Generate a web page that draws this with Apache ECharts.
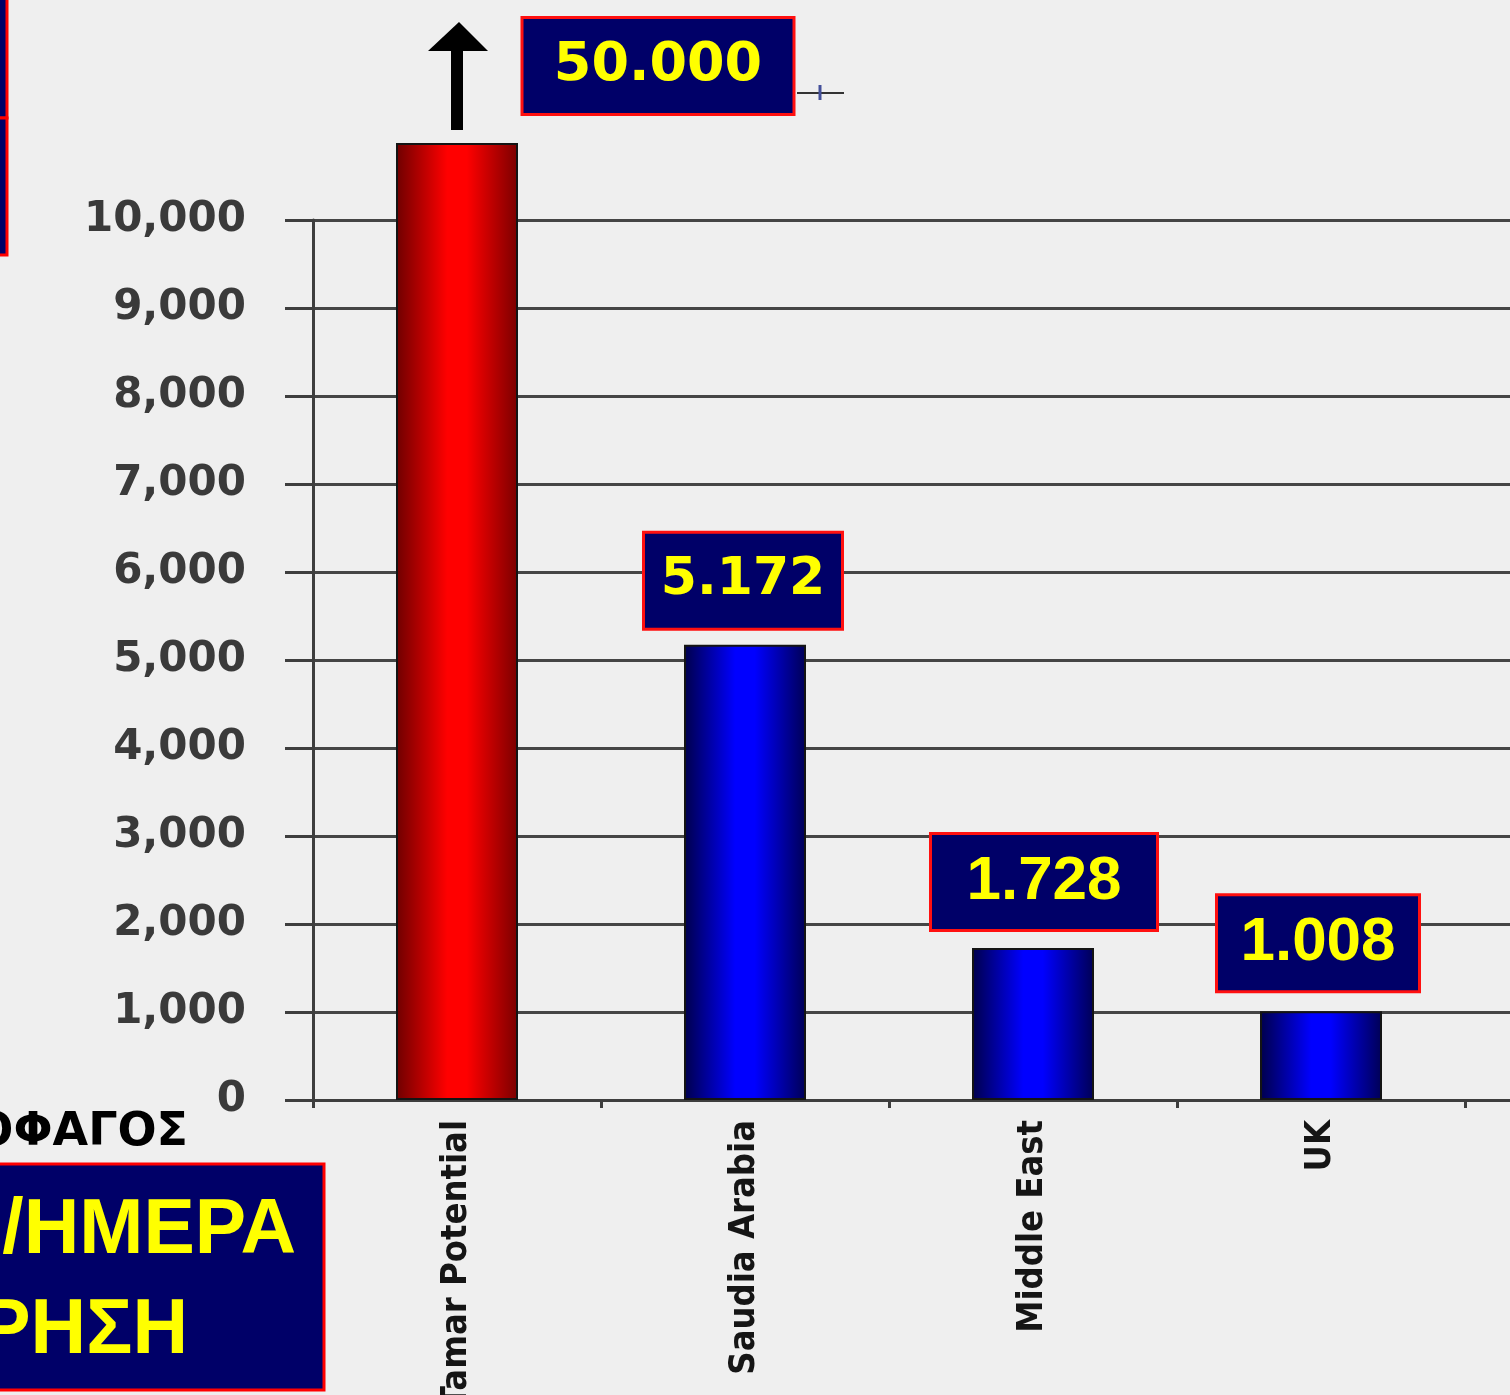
<!DOCTYPE html>
<html>
<head>
<meta charset="utf-8">
<script src="https://cdn.jsdelivr.net/npm/echarts@6/dist/echarts.min.js"></script>
<style>
html,body{margin:0;padding:0;background:#efefef;}
#c{width:1510px;height:1395px;}
</style>
</head>
<body>
<div id="c"></div>
<script>
// ---- data ----
const categories = ['Tamar Potential', 'Saudia Arabia', 'Middle East', 'UK', ''];
const values = [10875, 5172, 1728, 1008, null];           // drawn bar heights (Tamar bar is broken above the axis)
const valueLabels = ['50.000', '5.172', '1.728', '1.008', ''];
const yMin = 0, yMax = 10000, yStep = 1000;

// ---- styles ----
const NAVY = '#000068';
const heavy = '"DejaVu Sans", sans-serif';
const plain = '"Liberation Sans", Arial, sans-serif';
function grad(edgeL, mid, edgeR) {
  return new echarts.graphic.LinearGradient(0, 0, 1, 0, [
    {offset: 0, color: edgeL}, {offset: 0.42, color: mid}, {offset: 0.58, color: mid}, {offset: 1, color: edgeR}
  ]);
}
const barFills = [
  grad('#6e0000', '#ff0000', '#7a0000'),
  grad('#00004a', '#0000ff', '#000055'),
  grad('#00004a', '#0000ff', '#000055'),
  grad('#00004a', '#0000ff', '#000055'),
  grad('#00004a', '#0000ff', '#000055')
];
const labelLayout = [
  {w: 273, h: 98, off: [201, 0], dist: 30, font: heavy, size: 54},
  {w: 200, h: 98, off: [-2, 0], dist: 17, font: heavy, size: 52},
  {w: 228, h: 98, off: [11, 0], dist: 19, font: plain, size: 62},
  {w: 204, h: 98, off: [-3, 0], dist: 21, font: plain, size: 62},
  {w: 0, h: 0, off: [0, 0], dist: 0, font: plain, size: 10}
];

const chart = echarts.init(document.getElementById('c'), null, {renderer: 'canvas'});

const seriesData = values.map((v, i) => {
  const L = labelLayout[i];
  return {
    value: v,
    itemStyle: {color: barFills[i], borderColor: '#141414', borderWidth: 2},
    label: {
      show: v !== null,
      position: 'top',
      distance: L.dist,
      offset: L.off,
      formatter: () => valueLabels[i],
      width: L.w - 4, height: L.h - 4, lineHeight: L.h - 4,
      align: 'center',
      backgroundColor: NAVY, borderColor: '#ff1010', borderWidth: 3,
      padding: 0,
      color: '#ffff00', fontFamily: L.font, fontWeight: 'bold', fontSize: L.size
    }
  };
});

const axisCol = '#3e3e3e';
chart.setOption({
  backgroundColor: '#efefef',
  animation: false,
  grid: {left: 313, top: 220, width: 1440, height: 880, containLabel: false, outerBoundsMode: 'none'},
  xAxis: {
    type: 'category', data: categories,
    axisLine: {show: true, lineStyle: {color: axisCol, width: 3}},
    axisTick: {show: true, length: 8, lineStyle: {color: axisCol, width: 3}},
    axisLabel: {
      interval: 0, rotate: 90, margin: 20,
      fontFamily: '"Liberation Sans Narrow", "DejaVu Sans Condensed", "Liberation Sans", sans-serif',
      fontWeight: 'bold', fontSize: 36, color: '#151515'
    },
    splitLine: {show: false}
  },
  yAxis: {
    type: 'value', min: yMin, max: yMax, interval: yStep,
    axisLine: {show: true, lineStyle: {color: axisCol, width: 3}},
    axisTick: {show: true, length: 28, lineStyle: {color: axisCol, width: 3}},
    splitLine: {show: true, lineStyle: {color: '#454545', width: 3}},
    axisLabel: {
      margin: 67, formatter: v => v.toLocaleString('en-US'),
      fontFamily: heavy, fontWeight: 'bold', fontSize: 42, color: '#3a3a3a'
    }
  },
  series: [{
    type: 'bar', barWidth: 122, clip: false, z: 3,
    data: seriesData
  }]
});

// decorations positioned from the chart's own scale
const top0 = chart.convertToPixel({seriesIndex: 0}, [0, values[0]]);
const ax = top0[0], ay = top0[1];
chart.setOption({
  graphic: [
    // arrow above the broken bar
    {type: 'rect', shape: {x: ax - 6, y: ay - 95, width: 12, height: 82}, style: {fill: '#000'}, z: 10},
    {type: 'polygon', shape: {points: [[ax - 29, ay - 92], [ax + 31, ay - 92], [ax + 2, ay - 121]]}, style: {fill: '#000'}, z: 10},
    // small cross beside the 50.000 box
    {type: 'line', shape: {x1: ax + 340, y1: ay - 50, x2: ax + 387, y2: ay - 50}, style: {stroke: '#333', lineWidth: 2}, z: 10},
    {type: 'line', shape: {x1: ax + 363, y1: ay - 58, x2: ax + 363, y2: ay - 43}, style: {stroke: '#44509a', lineWidth: 3}, z: 10},
    // cut-off boxes at top-left
    {type: 'rect', shape: {x: -300, y: -10, width: 307, height: 128}, style: {fill: NAVY, stroke: '#ff0000', lineWidth: 3}, z: 10},
    {type: 'rect', shape: {x: -300, y: 118, width: 307, height: 137}, style: {fill: NAVY, stroke: '#ff0000', lineWidth: 3}, z: 10},
    // bottom-left text and box
    {type: 'text', style: {text: 'ΟΦΑΓΟΣ', x: 188, y: 1133, align: 'right', verticalAlign: 'middle', font: 'bold 46px "DejaVu Sans"', fill: '#000'}, z: 10},
    {type: 'rect', shape: {x: -20, y: 1164, width: 344, height: 226}, style: {fill: NAVY, stroke: '#ff0000', lineWidth: 3}, z: 10},
    {type: 'text', style: {text: '/ΗΜΕΡΑ', x: 296, y: 1232, align: 'right', verticalAlign: 'middle', font: 'bold 77px "Liberation Sans"', fill: '#ffff00'}, z: 11},
    {type: 'text', style: {text: 'ΡΗΣΗ', x: 188, y: 1332, align: 'right', verticalAlign: 'middle', font: 'bold 77px "Liberation Sans"', fill: '#ffff00'}, z: 11}
  ]
});
</script>
</body>
</html>
